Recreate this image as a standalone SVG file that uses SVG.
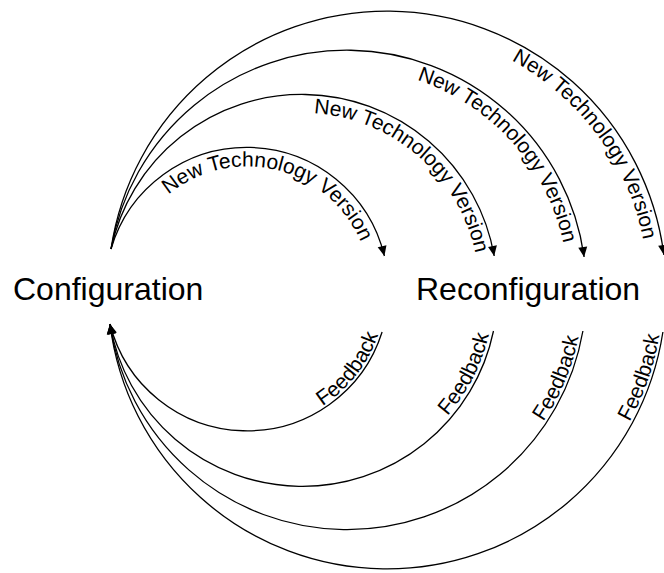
<svg xmlns="http://www.w3.org/2000/svg" xmlns:xlink="http://www.w3.org/1999/xlink" width="664" height="573" viewBox="0 0 664 573">
  <style>
    .arc { fill: none; stroke: #000; stroke-width: 1.3; marker-end: url(#arrow); }
    .title { font-family: "Liberation Sans", Arial, sans-serif; font-size: 32px; fill: #000; }
    .lbl { font-family: "Liberation Sans", Arial, sans-serif; font-size: 21px; fill: #000; }
    .guide { fill: none; stroke: none; }
  </style>
  <defs>
    <marker id="arrow" markerUnits="userSpaceOnUse" markerWidth="11" markerHeight="10" refX="10" refY="4.5" orient="auto" overflow="visible">
      <path d="M0,0 L10,4.5 L0,9 Z" fill="#000"/>
    </marker>
    <!-- baselines for the upper labels (inside each circle) -->
    <path id="tp1" class="guide" d="M168.4,194.7 A123.5,123.5 0 0 1 370.0,279.2"/>
    <path id="tp2" class="guide" d="M313.7,113.2 A177.2,177.2 0 0 1 479.2,290"/>
    <path id="tp3" class="guide" d="M416.9,79.9 A221.4,221.4 0 0 1 568.4,290"/>
    <path id="tp4" class="guide" d="M511.6,60.5 A261.1,261.1 0 0 1 648.1,290"/>
    <!-- baselines for the lower labels, running upward to the arc ends -->
    <path id="fb1" class="guide" d="M259.1,428.0 A138.5,138.5 0 0 0 378.1,334.6"/>
    <path id="fb2" class="guide" d="M318.8,481.5 A192.2,192.2 0 0 0 489.0,334.5"/>
    <path id="fb3" class="guide" d="M367.6,525.5 A236.4,236.4 0 0 0 578.6,337.1"/>
    <path id="fb4" class="guide" d="M411.1,565.1 A276.1,276.1 0 0 0 659.4,335.1"/>
  </defs>

  <rect width="664" height="573" fill="#fff"/>

  <g id="configuration">
    <text class="title" x="13" y="300">Configuration</text>
  </g>
  <g id="reconfiguration">
    <text class="title" x="416" y="300">Reconfiguration</text>
  </g>

  <g id="connectors">
    <!-- new technology versions: Configuration -> Reconfiguration -->
    <path class="arc" d="M111,249 A141.5,141.5 0 0 1 384.4,256"/>
    <path class="arc" d="M111,249 A195.2,195.2 0 0 1 494.2,256"/>
    <path class="arc" d="M111,249 A239.4,239.4 0 0 1 584.1,257"/>
    <path class="arc" d="M111,249 A279.1,279.1 0 0 1 663.9,255"/>
    <!-- feedback: Reconfiguration -> Configuration -->
    <path class="arc" d="M382.1,332 A141.5,141.5 0 0 1 110,324"/>
    <path class="arc" d="M493.5,331 A195.2,195.2 0 0 1 110,324"/>
    <path class="arc" d="M582.9,331 A239.4,239.4 0 0 1 110,324"/>
    <path class="arc" d="M662.9,332 A279.1,279.1 0 0 1 110,324"/>

    <text class="lbl"><textPath xlink:href="#tp1" href="#tp1">New Technology Version</textPath></text>
    <text class="lbl"><textPath xlink:href="#tp2" href="#tp2">New Technology Version</textPath></text>
    <text class="lbl"><textPath xlink:href="#tp3" href="#tp3">New Technology Version</textPath></text>
    <text class="lbl"><textPath xlink:href="#tp4" href="#tp4">New Technology Version</textPath></text>

    <text class="lbl"><textPath xlink:href="#fb1" href="#fb1" startOffset="100%" text-anchor="end">Feedback</textPath></text>
    <text class="lbl"><textPath xlink:href="#fb2" href="#fb2" startOffset="100%" text-anchor="end">Feedback</textPath></text>
    <text class="lbl"><textPath xlink:href="#fb3" href="#fb3" startOffset="100%" text-anchor="end">Feedback</textPath></text>
    <text class="lbl"><textPath xlink:href="#fb4" href="#fb4" startOffset="100%" text-anchor="end">Feedback</textPath></text>
  </g>
</svg>
